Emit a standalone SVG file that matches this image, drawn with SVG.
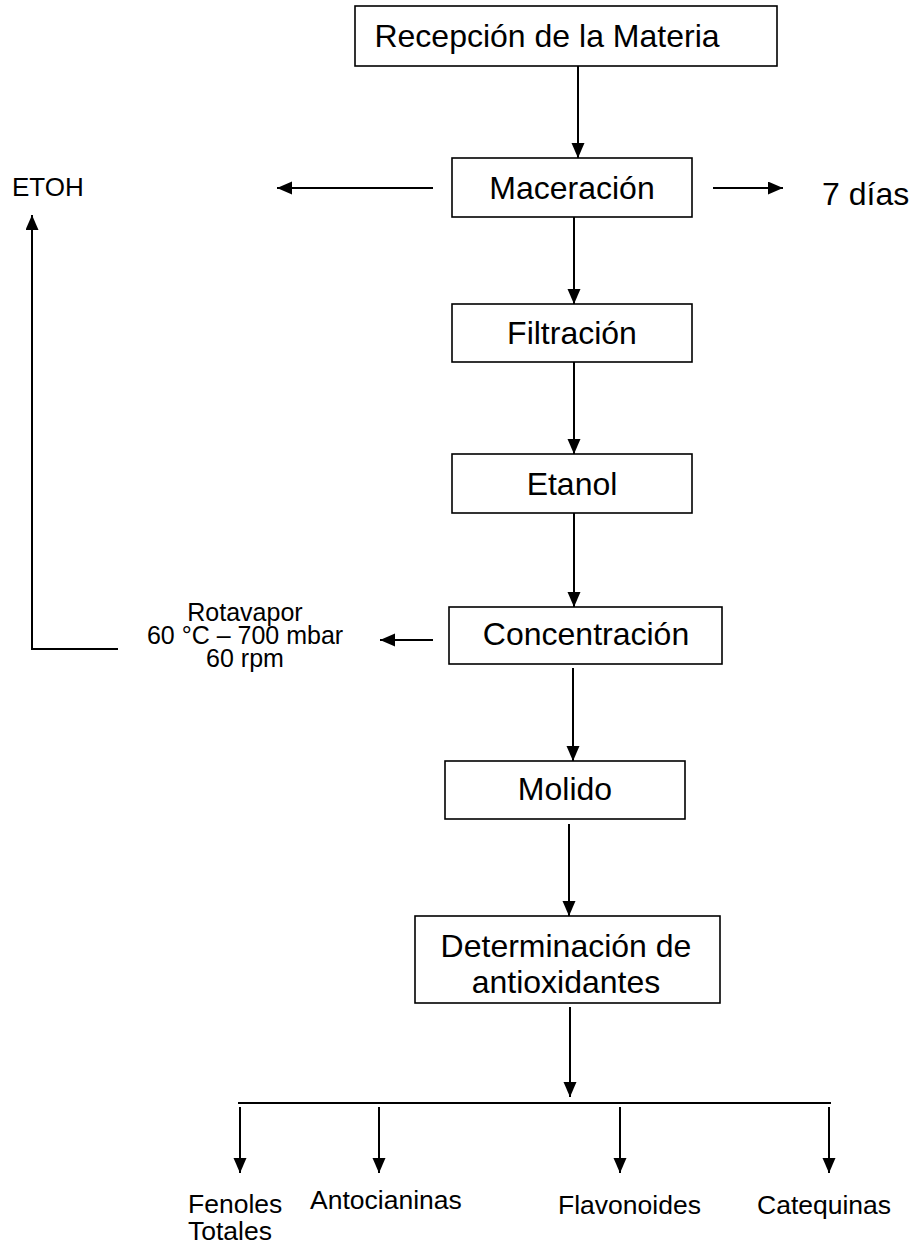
<svg xmlns="http://www.w3.org/2000/svg" width="915" height="1247" viewBox="0 0 915 1247">
<style>
.box{fill:#fff;stroke:#000;stroke-width:1.6}
.t{font-family:"Liberation Sans",Arial,sans-serif;fill:#000}
.big{font-size:32px}
.mid{font-size:26px}
.bot{font-size:26.5px}
.sm{font-size:25px}
.c{stroke:#000;stroke-width:2;fill:none}
</style>
<defs>
<marker id="ah" markerUnits="userSpaceOnUse" markerWidth="16" markerHeight="14" refX="15" refY="6.5" orient="auto">
<path d="M0,0 L15,6.5 L0,13 z" fill="#000"/>
</marker>
</defs>
<rect width="915" height="1247" fill="#fff"/>
<g id="n-recepcion"><rect class="box" x="355" y="6" width="422" height="60"/><text class="t big" x="547" y="47" text-anchor="middle">Recepción de la Materia</text></g>
<g id="n-maceracion"><rect class="box" x="452" y="158" width="240" height="59"/><text class="t big" x="572" y="199" text-anchor="middle">Maceración</text></g>
<g id="n-etoh"><text class="t mid" x="12" y="196">ETOH</text></g>
<g id="n-7dias"><text class="t big" x="822" y="205">7 días</text></g>
<g id="n-filtracion"><rect class="box" x="452" y="304" width="240" height="58"/><text class="t big" x="572" y="344" text-anchor="middle">Filtración</text></g>
<g id="n-etanol"><rect class="box" x="452" y="454" width="240" height="59"/><text class="t big" x="572" y="495" text-anchor="middle">Etanol</text></g>
<g id="n-concentracion"><rect class="box" x="449" y="607" width="273" height="57"/><text class="t big" x="586" y="645" text-anchor="middle">Concentración</text></g>
<g id="n-rotavapor"><text class="t sm" text-anchor="middle"><tspan x="245" y="621">Rotavapor</tspan><tspan x="245" y="644">60 °C – 700 mbar</tspan><tspan x="245" y="667">60 rpm</tspan></text></g>
<g id="n-molido"><rect class="box" x="445" y="761" width="240" height="58"/><text class="t big" x="565" y="800" text-anchor="middle">Molido</text></g>
<g id="n-determinacion"><rect class="box" x="415" y="916" width="305" height="87"/><text class="t big" text-anchor="middle"><tspan x="566" y="957">Determinación de</tspan><tspan x="566" y="993">antioxidantes</tspan></text></g>
<g id="n-fenoles"><text class="t bot"><tspan x="188" y="1213">Fenoles</tspan><tspan x="188" y="1240">Totales</tspan></text></g>
<g id="n-antocianinas"><text class="t bot" x="310" y="1209">Antocianinas</text></g>
<g id="n-flavonoides"><text class="t bot" x="558" y="1214">Flavonoides</text></g>
<g id="n-catequinas"><text class="t bot" x="757" y="1214">Catequinas</text></g>
<g id="connectors">
<line class="c" x1="578" y1="66" x2="578" y2="158" marker-end="url(#ah)"/>
<line class="c" x1="433" y1="188" x2="277" y2="188" marker-end="url(#ah)"/>
<line class="c" x1="713" y1="188" x2="783" y2="188" marker-end="url(#ah)"/>
<line class="c" x1="574" y1="217" x2="574" y2="304" marker-end="url(#ah)"/>
<line class="c" x1="574" y1="362" x2="574" y2="454" marker-end="url(#ah)"/>
<line class="c" x1="574" y1="513" x2="574" y2="607" marker-end="url(#ah)"/>
<line class="c" x1="433" y1="640" x2="380" y2="640" marker-end="url(#ah)"/>
<polyline class="c" points="118,649 32,649 32,215" marker-end="url(#ah)"/>
<line class="c" x1="573" y1="668" x2="573" y2="761" marker-end="url(#ah)"/>
<line class="c" x1="569" y1="824" x2="569" y2="916" marker-end="url(#ah)"/>
<line class="c" x1="570" y1="1007" x2="570" y2="1097" marker-end="url(#ah)"/>
<line class="c" x1="238" y1="1103" x2="831" y2="1103"/>
<line class="c" x1="240" y1="1107" x2="240" y2="1173" marker-end="url(#ah)"/>
<line class="c" x1="379" y1="1107" x2="379" y2="1173" marker-end="url(#ah)"/>
<line class="c" x1="620" y1="1107" x2="620" y2="1173" marker-end="url(#ah)"/>
<line class="c" x1="829" y1="1107" x2="829" y2="1173" marker-end="url(#ah)"/>
</g>
</svg>
